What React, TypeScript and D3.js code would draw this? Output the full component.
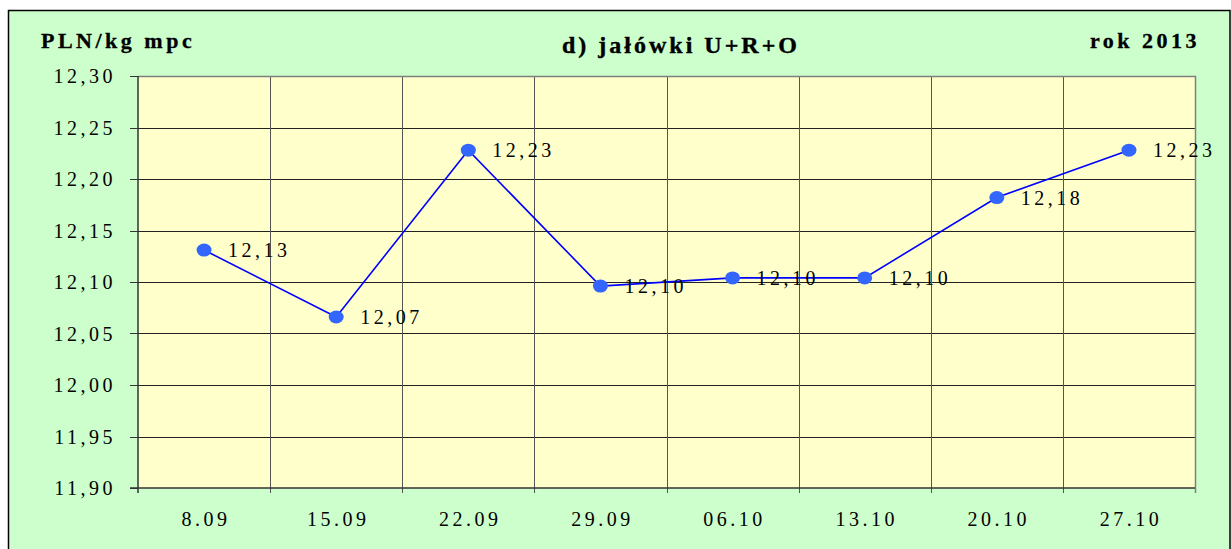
import React, { useEffect, useRef } from "react";
import * as d3 from "d3";

const categories = ["8.09", "15.09", "22.09", "29.09", "06.10", "13.10", "20.10", "27.10"];
const values = [12.131, 12.066, 12.228, 12.096, 12.104, 12.104, 12.182, 12.228];
const pointLabels = ["12,13", "12,07", "12,23", "12,10", "12,10", "12,10", "12,18", "12,23"];
const yTicks = [11.9, 11.95, 12.0, 12.05, 12.1, 12.15, 12.2, 12.25, 12.3];
const titleText = "d) jałówki U+R+O";
const unitText = "PLN/kg mpc";
const yearText = "rok 2013";

const W = 1231;
const H = 549;
const FONT = "'Liberation Serif', 'Times New Roman', serif";

export default function App() {
  const ref = useRef<SVGSVGElement | null>(null);

  useEffect(() => {
    const svg = d3.select(ref.current);
    svg.selectAll("*").remove();

    const left = 138, right = 1195, top = 76, bottom = 488;

    // outer frame
    svg.append("rect").attr("x", 0).attr("y", 0).attr("width", W).attr("height", H).attr("fill", "#ffffff");
    svg.append("rect")
      .attr("x", 8.5).attr("y", 10.5).attr("width", 1221.5).attr("height", 560)
      .attr("fill", "#CCFFCC").attr("stroke", "#000").attr("stroke-width", 1.5);

    const x = d3.scaleBand<string>().domain(categories).range([left, right]).padding(0);
    const y = d3.scaleLinear().domain([11.9, 12.3]).range([bottom, top]);
    const cx = (c: string) => (x(c) as number) + x.bandwidth() / 2;
    const fmt = (v: number) => d3.format(".2f")(v).replace(".", ",");

    // plot area
    svg.append("rect")
      .attr("x", left).attr("y", top).attr("width", right - left).attr("height", bottom - top)
      .attr("fill", "#FFFFCC");

    // horizontal grid
    svg.append("g").selectAll("line").data(yTicks.slice(1, -1)).join("line")
      .attr("x1", left).attr("x2", right)
      .attr("y1", (d) => Math.round(y(d)) + 0.5).attr("y2", (d) => Math.round(y(d)) + 0.5)
      .attr("stroke", "#222").attr("stroke-width", 1);

    // vertical grid
    svg.append("g").selectAll("line").data(categories.slice(1)).join("line")
      .attr("x1", (d) => Math.round(x(d) as number) + 0.5).attr("x2", (d) => Math.round(x(d) as number) + 0.5)
      .attr("y1", top).attr("y2", bottom + 5)
      .attr("stroke", "#555").attr("stroke-width", 1);

    // plot border (top/right gray)
    svg.append("path")
      .attr("d", `M${left},${top + 0.5}H${right + 0.5}V${bottom}`)
      .attr("fill", "none").attr("stroke", "#808080").attr("stroke-width", 1.5);
    svg.append("line").attr("x1", right + 0.5).attr("x2", right + 0.5).attr("y1", bottom).attr("y2", bottom + 5)
      .attr("stroke", "#808080").attr("stroke-width", 1.5);

    // axes
    svg.append("line").attr("x1", left).attr("x2", left).attr("y1", top).attr("y2", bottom + 5)
      .attr("stroke", "#333").attr("stroke-width", 1.5);
    svg.append("line").attr("x1", left - 8).attr("x2", right).attr("y1", bottom).attr("y2", bottom)
      .attr("stroke", "#333").attr("stroke-width", 1.5);

    // y ticks
    svg.append("g").selectAll("line").data(yTicks).join("line")
      .attr("x1", left - 8).attr("x2", left)
      .attr("y1", (d) => Math.round(y(d)) + 0.5).attr("y2", (d) => Math.round(y(d)) + 0.5)
      .attr("stroke", "#333").attr("stroke-width", 1);
    svg.append("g").selectAll("text").data(yTicks).join("text")
      .attr("x", 116).attr("y", (d) => y(d) + 7)
      .attr("text-anchor", "end")
      .attr("font-family", FONT).attr("font-size", 20).attr("letter-spacing", 3.5)
      .attr("fill", "#000")
      .text((d) => fmt(d));

    // x labels
    svg.append("g").selectAll("text").data(categories).join("text")
      .attr("x", (d) => cx(d) + 2).attr("y", 526)
      .attr("text-anchor", "middle")
      .attr("font-family", FONT).attr("font-size", 20).attr("letter-spacing", 3.5)
      .attr("fill", "#000")
      .text((d) => d);

    // line
    const line = d3.line<number>().x((_, i) => cx(categories[i])).y((d) => y(d));
    svg.append("path").datum(values).attr("d", line)
      .attr("fill", "none").attr("stroke", "#0000FF").attr("stroke-width", 1.6);

    // markers
    svg.append("g").selectAll("ellipse").data(values).join("ellipse")
      .attr("cx", (_, i) => cx(categories[i])).attr("cy", (d) => y(d))
      .attr("rx", 7.5).attr("ry", 6.5).attr("fill", "#3366FF");

    // point labels
    svg.append("g").selectAll("text").data(values).join("text")
      .attr("x", (_, i) => cx(categories[i]) + 24).attr("y", (d) => y(d) + 7)
      .attr("font-family", FONT).attr("font-size", 20).attr("letter-spacing", 3.5)
      .attr("fill", "#000")
      .text((_, i) => pointLabels[i]);

    // titles
    svg.append("text").attr("x", 41).attr("y", 48)
      .attr("font-family", FONT).attr("font-size", 22).attr("font-weight", "bold").attr("letter-spacing", 3.5)
      .attr("stroke", "#000").attr("stroke-width", 0.3)
      .text(unitText);
    svg.append("text").attr("x", 681).attr("y", 53).attr("text-anchor", "middle")
      .attr("font-family", FONT).attr("font-size", 24).attr("font-weight", "bold").attr("letter-spacing", 3)
      .attr("stroke", "#000").attr("stroke-width", 0.4)
      .text(titleText);
    svg.append("text").attr("x", 1200).attr("y", 48).attr("text-anchor", "end")
      .attr("font-family", FONT).attr("font-size", 22).attr("font-weight", "bold").attr("letter-spacing", 3.5)
      .attr("stroke", "#000").attr("stroke-width", 0.3)
      .text(yearText);
  }, []);

  return (
    <svg
      ref={ref}
      width={W}
      height={H}
      style={{ position: "absolute", left: 0, top: 0, display: "block" }}
    />
  );
}
